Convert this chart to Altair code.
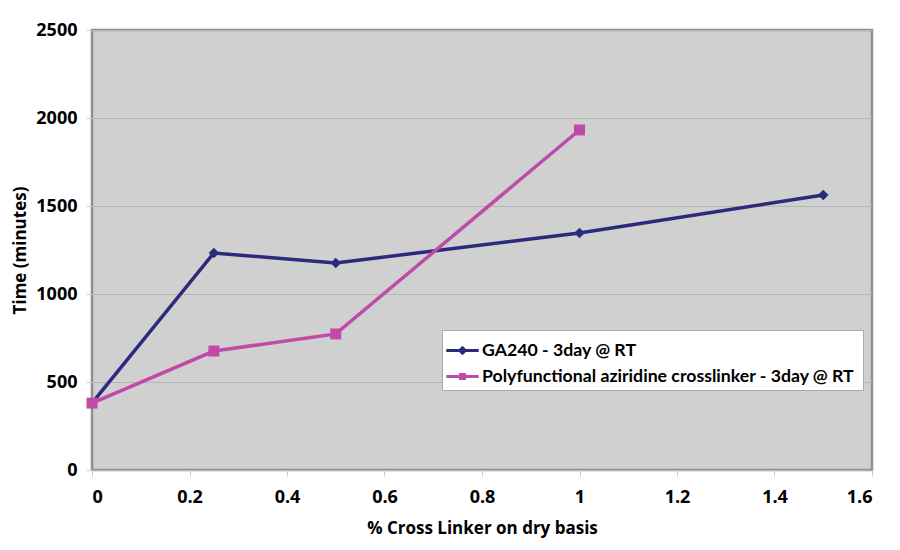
import altair as alt
import pandas as pd

series_a = "GA240 - 3day @ RT"
series_b = "Polyfunctional aziridine crosslinker -  3day @ RT"

x_a = [0, 0.25, 0.5, 1.0, 1.5]
y_a = [380, 1233, 1176, 1347, 1562]
x_b = [0, 0.25, 0.5, 1.0]
y_b = [380, 676, 773, 1932]

df_a = pd.DataFrame({"x": x_a, "y": y_a, "series": [series_a] * len(x_a)})
df_b = pd.DataFrame({"x": x_b, "y": y_b, "series": [series_b] * len(x_b)})
df = pd.concat([df_a, df_b], ignore_index=True)

colors = ["#2b2a7c", "#c04aa8"]
FONT = "Open Sans"

diamond_path = "M-1,-0.085L1,-0.085L1,0.085L-1,0.085ZM0,-0.3L0.3,0L0,0.3L-0.3,0Z"
square_path = "M-1,-0.085L1,-0.085L1,0.085L-1,0.085ZM-0.22,-0.22L0.22,-0.22L0.22,0.22L-0.22,0.22Z"

xenc = alt.X("x:Q", title="% Cross Linker on dry basis",
             scale=alt.Scale(domain=[0, 1.6], nice=False),
             axis=alt.Axis(values=[0, 0.2, 0.4, 0.6, 0.8, 1.0, 1.2, 1.4, 1.6],
                           format="~g",
                           grid=False, domain=False, tickColor="#cccccc", tickSize=6,
                           labelPadding=12, titlePadding=14))
yenc = alt.Y("y:Q", title="Time (minutes)",
             scale=alt.Scale(domain=[0, 2500], nice=False),
             axis=alt.Axis(values=[0, 500, 1000, 1500, 2000, 2500], grid=True,
                           format="d",
                           gridColor="#b5b5b5", gridWidth=1, domain=False,
                           tickColor="#cccccc", tickSize=6, labelPadding=9,
                           titlePadding=6))

line_a = alt.Chart(df_a).mark_line(strokeWidth=3.5, color=colors[0]).encode(x=xenc, y=yenc)
line_b = alt.Chart(df_b).mark_line(strokeWidth=3.5, color=colors[1]).encode(x=xenc, y=yenc)

pts_a = alt.Chart(df_a).mark_point(filled=True, opacity=1, size=110, shape="diamond",
                                   color=colors[0]).encode(x=xenc, y=yenc)
pts_b = alt.Chart(df_b).mark_point(filled=True, opacity=1, size=120, shape="square",
                                   color=colors[1]).encode(x=xenc, y=yenc)

legend_layer = alt.Chart(df).mark_point(filled=True, opacity=1).encode(
    x=xenc, y=yenc,
    size=alt.value(0),
    color=alt.Color("series:N", scale=alt.Scale(domain=[series_a, series_b], range=colors),
                    legend=alt.Legend(
                        title=None, orient="none", legendX=350, legendY=300,
                        fillColor="white", strokeColor="#aaaaaa", padding=4,
                        labelFont="Lato", labelFontSize=17.7, labelFontWeight="bold",
                        labelColor="black", labelLimit=600, symbolSize=1050,
                        symbolStrokeWidth=0, rowPadding=0, labelOffset=3)),
    shape=alt.Shape("series:N", scale=alt.Scale(domain=[series_a, series_b],
                                                range=[diamond_path, square_path])),
)

chart = alt.layer(line_a, line_b, pts_a, pts_b, legend_layer).properties(
    width=780, height=440,
    background="white",
    autosize=alt.AutoSizeParams(type="none"),
    padding={"left": 84, "top": 22, "right": 20, "bottom": 72},
).configure_view(
    fill="#d0d0d1", stroke="#8f8f8f", strokeWidth=2.5
).configure_axis(
    labelFont=FONT, labelFontSize=18, labelFontWeight="bold", labelColor="black",
    titleFont=FONT, titleFontSize=17, titleFontWeight="bold", titleColor="black",
)

chart.save("out.html", embed_options={"renderer": "svg", "actions": False})
